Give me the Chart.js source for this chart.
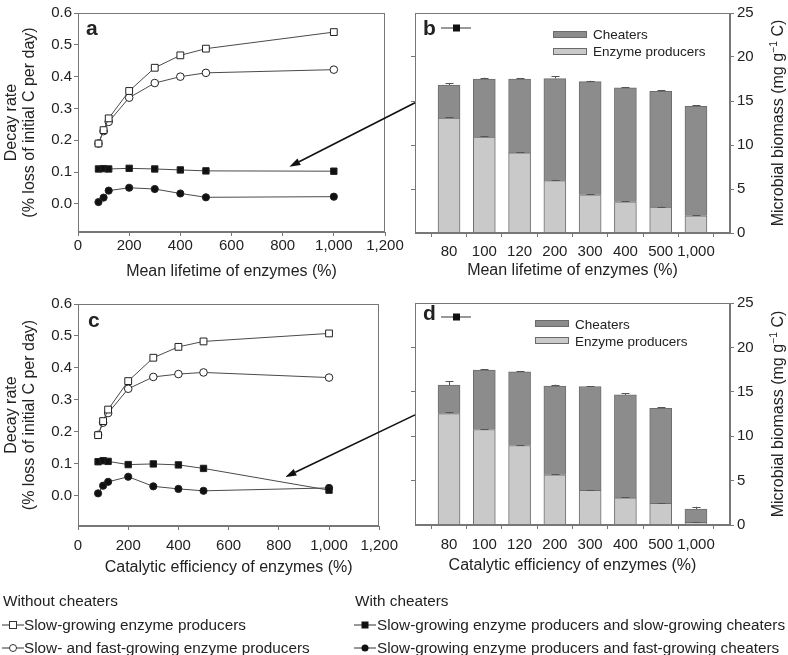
<!DOCTYPE html>
<html>
<head>
<meta charset="utf-8">
<script src="https://cdn.jsdelivr.net/npm/chart.js@4.4.1/dist/chart.umd.min.js"></script>
<style>
  html, body { margin: 0; padding: 0; background: #fff; }
  body { width: 788px; height: 655px; position: relative; overflow: hidden;
         font-family: "Liberation Sans", Arial, Helvetica, sans-serif; color: #222; }
  .pane { position: absolute; }
  .pane canvas { display: block; }
  .txt { position: absolute; white-space: nowrap; font-size: 15.3px; line-height: 18px; }
  .leg { position: absolute; white-space: nowrap; font-size: 13.5px; line-height: 16px; }
  .tag { position: absolute; font-weight: bold; font-size: 21px; line-height: 21px; }
  .sw  { position: absolute; width: 32px; height: 5px; border: 1px solid #6a6a6a; }
  .sym { position: absolute; }
  #arrows { position: absolute; left: 0; top: 0; pointer-events: none; }
</style>
</head>
<body>

<div class="pane" id="paneA" style="left:0;top:0"><canvas id="chartA" width="405" height="295"></canvas></div>
<div class="pane" id="paneB" style="left:380px;top:0"><canvas id="chartB" width="408" height="295"></canvas></div>
<div class="pane" id="paneC" style="left:0;top:290px"><canvas id="chartC" width="405" height="295"></canvas></div>
<div class="pane" id="paneD" style="left:380px;top:290px"><canvas id="chartD" width="408" height="295"></canvas></div>

<!-- panel letters -->
<div class="tag" style="left:86px;top:17px">a</div>
<div class="tag" style="left:423px;top:17px">b</div>
<svg class="sym" style="left:441px;top:22px" width="30" height="12"><line x1="0" y1="6" x2="30" y2="6" stroke="#333" stroke-width="1"/><rect x="12" y="2.5" width="7" height="7" fill="#111"/></svg>
<div class="tag" style="left:88px;top:309px">c</div>
<div class="tag" style="left:423px;top:302px">d</div>
<svg class="sym" style="left:441px;top:311px" width="30" height="12"><line x1="0" y1="6" x2="30" y2="6" stroke="#333" stroke-width="1"/><rect x="12" y="2.5" width="7" height="7" fill="#111"/></svg>

<!-- bar legends -->
<div class="sw" style="left:553px;top:31px;background:#8c8c8c"></div>
<div class="leg" style="left:593px;top:27px">Cheaters</div>
<div class="sw" style="left:553px;top:48px;background:#c9c9c9"></div>
<div class="leg" style="left:593px;top:44px">Enzyme producers</div>

<div class="sw" style="left:535px;top:320px;background:#8c8c8c"></div>
<div class="leg" style="left:575px;top:317px">Cheaters</div>
<div class="sw" style="left:535px;top:337px;background:#c9c9c9"></div>
<div class="leg" style="left:575px;top:334px">Enzyme producers</div>

<!-- bottom legend -->
<div class="txt" style="left:3px;top:592px">Without cheaters</div>
<svg class="sym" style="left:2px;top:619px" width="22" height="12"><line x1="0" y1="6" x2="22" y2="6" stroke="#333"/><rect x="7.5" y="2.5" width="7" height="7" fill="#fff" stroke="#333"/></svg>
<div class="txt" style="left:24px;top:616px">Slow-growing enzyme producers</div>
<svg class="sym" style="left:2px;top:642px" width="22" height="12"><line x1="0" y1="6" x2="22" y2="6" stroke="#333"/><circle cx="11" cy="6" r="3.5" fill="#fff" stroke="#333"/></svg>
<div class="txt" style="left:24px;top:639px">Slow- and fast-growing enzyme producers</div>

<div class="txt" style="left:355px;top:592px">With cheaters</div>
<svg class="sym" style="left:354px;top:619px" width="22" height="12"><line x1="0" y1="6" x2="22" y2="6" stroke="#333"/><rect x="7.5" y="2.5" width="7" height="7" fill="#111"/></svg>
<div class="txt" style="left:377px;top:616px">Slow-growing enzyme producers and slow-growing cheaters</div>
<svg class="sym" style="left:354px;top:642px" width="22" height="12"><line x1="0" y1="6" x2="22" y2="6" stroke="#333"/><circle cx="11" cy="6" r="3.5" fill="#111"/></svg>
<div class="txt" style="left:377px;top:639px">Slow-growing enzyme producers and fast-growing cheaters</div>

<svg id="arrows" width="788" height="655"></svg>

<script>
// ---- data ----
const pctLevels = [80, 100, 120, 200, 300, 400, 500, 1000];
const pctTicks = [0, 200, 400, 600, 800, 1000, 1200];
const decayTicks = [0, 0.1, 0.2, 0.3, 0.4, 0.5, 0.6];
const biomassTicks = [0, 5, 10, 15, 20, 25];
const barCats = ["80", "100", "120", "200", "300", "400", "500", "1,000"];

// panel a: mean lifetime of enzymes
const aSlowProd  = [0.19, 0.232, 0.269, 0.355, 0.428, 0.467, 0.488, 0.540];
const aMixProd   = [0.19, 0.229, 0.258, 0.334, 0.380, 0.400, 0.412, 0.422];
const aSlowCheat = [0.110, 0.111, 0.110, 0.112, 0.110, 0.107, 0.104, 0.103];
const aFastCheat = [0.006, 0.020, 0.042, 0.051, 0.047, 0.033, 0.021, 0.023];

// panel c: catalytic efficiency of enzymes
const cSlowProd  = [0.19, 0.234, 0.270, 0.359, 0.432, 0.466, 0.483, 0.508];
const cMixProd   = [0.191, 0.229, 0.259, 0.335, 0.372, 0.381, 0.386, 0.370];
const cSlowCheat = [0.107, 0.110, 0.108, 0.098, 0.100, 0.097, 0.086, 0.018];
const cFastCheat = [0.008, 0.032, 0.044, 0.060, 0.030, 0.022, 0.016, 0.025];

// panel b: biomass, mean lifetime
const bProducers = [13.05, 10.9, 9.1, 5.95, 4.35, 3.55, 2.95, 1.95];
const bCheaters  = [3.75, 6.6, 8.4, 11.6, 12.85, 12.95, 13.15, 12.45];
const bErrProd   = [0.1, 0.08, 0.06, 0.08, 0.05, 0.05, 0.05, 0.05];
const bErrTotal  = [0.2, 0.15, 0.1, 0.25, 0.1, 0.1, 0.15, 0.1];

// panel d: biomass, catalytic efficiency
const dProducers = [12.55, 10.75, 8.95, 5.65, 3.9, 3.05, 2.45, 0.3];
const dCheaters  = [3.2, 6.7, 8.3, 10.0, 11.7, 11.6, 10.7, 1.5];
const dErrProd   = [0.15, 0.05, 0.05, 0.08, 0.05, 0.05, 0.05, 0.05];
const dErrTotal  = [0.45, 0.1, 0.1, 0.15, 0.05, 0.2, 0.1, 0.25];

// arrow anchors (data units): head in line panel, tail on bar panel's left axis
const arrowA = { x: 826, y: 0.117, fromY: 14.8 };
const arrowC = { x: 826, y: 0.059, fromY: 12.4 };

// ---- styling ----
Chart.defaults.font.family = '"Liberation Sans", Arial, Helvetica, sans-serif';
Chart.defaults.color = "#222";
const AXIS = "#777";
const LINE = "#4a4a4a";

const framePlugin = {
  id: "frameBox",
  afterDraw(chart) {
    const { ctx, chartArea: a } = chart;
    ctx.save();
    ctx.strokeStyle = AXIS; ctx.lineWidth = 1;
    ctx.strokeRect(Math.round(a.left) + 0.5, Math.round(a.top) + 0.5,
                   Math.round(a.right - a.left) - 1, Math.round(a.bottom - a.top) - 1);
    ctx.restore();
  }
};

const errorBars = {
  id: "errorBars",
  afterDatasetsDraw(chart) {
    const { ctx } = chart; const ys = chart.scales.y;
    ctx.save(); ctx.strokeStyle = "#555"; ctx.lineWidth = 1;
    chart.data.datasets.forEach((ds, di) => {
      if (!ds.errs) return;
      chart.getDatasetMeta(di).data.forEach((bar, i) => {
        const len = ys.getPixelForValue(0) - ys.getPixelForValue(ds.errs[i]);
        const x = Math.round(bar.x) + 0.5, y0 = bar.y, y1 = bar.y - len;
        ctx.beginPath();
        ctx.moveTo(x, y0); ctx.lineTo(x, y1);
        ctx.moveTo(x - 4, Math.round(y1) + 0.5); ctx.lineTo(x + 4, Math.round(y1) + 0.5);
        ctx.stroke();
      });
    });
    ctx.restore();
  }
};

// right-hand axis title, read bottom-to-top, with superscript
const bioTitle = {
  id: "bioTitle",
  afterDraw(chart) {
    const { ctx, chartArea: a } = chart;
    const big = '16px "Liberation Sans", Arial, sans-serif';
    const sml = '10.5px "Liberation Sans", Arial, sans-serif';
    const p1 = "Microbial biomass (mg g", p2 = "\u22121", p3 = " C)";
    ctx.save();
    ctx.font = big; const w1 = ctx.measureText(p1).width, w3 = ctx.measureText(p3).width;
    ctx.font = sml; const w2 = ctx.measureText(p2).width;
    const total = w1 + w2 + w3;
    ctx.translate(a.right + 47, (a.top + a.bottom) / 2);
    ctx.rotate(-Math.PI / 2);
    ctx.fillStyle = "#222"; ctx.textBaseline = "alphabetic";
    let x = -total / 2; const base = 5.5;
    ctx.font = big; ctx.fillText(p1, x, base); x += w1;
    ctx.font = sml; ctx.fillText(p2, x, base - 6); x += w2;
    ctx.font = big; ctx.fillText(p3, x, base);
    ctx.restore();
  }
};

function tickGrid() {
  return { drawOnChartArea: false, drawTicks: true, tickLength: 4, color: AXIS };
}

function decayChart(id, xTitle, series, geo) {
  const ds = series.map(s => ({
    data: pctLevels.map((x, i) => ({ x, y: s.values[i] })),
    borderColor: LINE, borderWidth: 1, tension: 0,
    pointStyle: s.style, pointRadius: s.r,
    pointBackgroundColor: s.fill, pointBorderColor: "#222", pointBorderWidth: 1
  }));
  return new Chart(document.getElementById(id), {
    type: "line",
    data: { datasets: ds },
    options: {
      responsive: false, animation: false, events: [],
      layout: { padding: { top: geo.top, right: geo.right, left: 0, bottom: 0 } },
      plugins: { legend: { display: false }, tooltip: { enabled: false } },
      scales: {
        x: {
          type: "linear", min: 0, max: 1200,
          afterBuildTicks: s => { s.ticks = pctTicks.map(v => ({ value: v })); },
          ticks: { font: { size: 15 }, padding: geo.xPad, maxRotation: 0, autoSkip: false,
                   callback: v => v.toLocaleString("en-US") },
          grid: tickGrid(), border: { color: AXIS },
          title: { display: true, text: xTitle, font: { size: 16 }, padding: { top: 0, bottom: geo.titlePad } },
          afterFit: s => { s.height = geo.xH; }
        },
        y: {
          min: geo.yMin, max: 0.6,
          afterBuildTicks: s => { s.ticks = decayTicks.map(v => ({ value: v })); },
          ticks: { font: { size: 15 }, padding: 2, callback: v => v.toFixed(1) },
          grid: tickGrid(), border: { color: AXIS },
          title: { display: true, text: ["Decay rate", "(% loss of initial C per day)"],
                   font: { size: 16, lineHeight: 1.1 }, padding: { top: 3, bottom: 0 } },
          afterFit: s => { s.width = 78; }
        }
      }
    },
    plugins: [framePlugin]
  });
}

function biomassChart(id, xTitle, prod, cheat, errProd, errTotal, geo) {
  const idx = barCats.map((_, i) => i);
  const bar = { borderColor: "#6e6e6e", borderWidth: 1, barThickness: 22, stack: "s" };
  return new Chart(document.getElementById(id), {
    type: "bar",
    data: {
      datasets: [
        Object.assign({ label: "Enzyme producers", data: idx.map(i => ({ x: i, y: prod[i] })),
                        backgroundColor: "#c9c9c9", errs: errProd }, bar),
        Object.assign({ label: "Cheaters", data: idx.map(i => ({ x: i, y: cheat[i] })),
                        backgroundColor: "#8c8c8c", errs: errTotal }, bar)
      ]
    },
    options: {
      responsive: false, animation: false, events: [],
      layout: { padding: { top: geo.top, right: 0, left: 0, bottom: 0 } },
      plugins: { legend: { display: false }, tooltip: { enabled: false } },
      scales: {
        x: {
          type: "linear", min: -0.965, max: 7.965, offset: false,
          afterBuildTicks: s => { s.ticks = idx.map(v => ({ value: v })); },
          ticks: { font: { size: 15 }, padding: geo.xPad, maxRotation: 0, autoSkip: false,
                   callback: v => barCats[v] },
          grid: tickGrid(), border: { color: AXIS },
          title: { display: true, text: xTitle, font: { size: 16 }, padding: { top: 0, bottom: geo.titlePad } },
          afterFit: s => { s.height = geo.xH; }
        },
        y: {
          position: "right", stacked: true, min: 0, max: 25,
          afterBuildTicks: s => { s.ticks = biomassTicks.map(v => ({ value: v })); },
          ticks: { font: { size: 15 }, padding: 3 },
          grid: tickGrid(), border: { color: AXIS },
          afterFit: s => { s.width = 58; }
        },
        yl: {
          position: "left", min: 0, max: 25,
          afterBuildTicks: s => { s.ticks = biomassTicks.slice(1, -1).map(v => ({ value: v })); },
          ticks: { display: false },
          grid: tickGrid(), border: { color: AXIS },
          afterFit: s => { s.width = 35; }
        }
      }
    },
    plugins: [framePlugin, errorBars, bioTitle]
  });
}

const symbols = {
  slowProd:  { style: "rect",   r: 4.8, fill: "#fff" },
  mixProd:   { style: "circle", r: 3.8, fill: "#fff" },
  slowCheat: { style: "rect",   r: 4.5, fill: "#111" },
  fastCheat: { style: "circle", r: 3.6, fill: "#111" }
};
function seriesSet(sp, mp, sc, fc) {
  return [
    Object.assign({ values: sp }, symbols.slowProd),
    Object.assign({ values: mp }, symbols.mixProd),
    Object.assign({ values: sc }, symbols.slowCheat),
    Object.assign({ values: fc }, symbols.fastCheat)
  ];
}

const chartA = decayChart("chartA", "Mean lifetime of enzymes (%)",
  seriesSet(aSlowProd, aMixProd, aSlowCheat, aFastCheat),
  { top: 13, right: 20, xH: 63, xPad: 1, titlePad: 14, yMin: -0.088 });
const chartC = decayChart("chartC", "Catalytic efficiency of enzymes (%)",
  seriesSet(cSlowProd, cMixProd, cSlowCheat, cFastCheat),
  { top: 14, right: 20, xH: 59, xPad: 7, titlePad: 8, yMin: -0.094 });
const chartB = biomassChart("chartB", "Mean lifetime of enzymes (%)",
  bProducers, bCheaters, bErrProd, bErrTotal,
  { top: 13, xH: 62, xPad: 6, titlePad: 15 });
const chartD = biomassChart("chartD", "Catalytic efficiency of enzymes (%)",
  dProducers, dCheaters, dErrProd, dErrTotal,
  { top: 13, xH: 60, xPad: 7, titlePad: 10 });

// ---- arrows linking the with-cheater line to the biomass panels ----
function drawArrow(lineChart, linePane, barChart, barPane, at) {
  const svg = document.getElementById("arrows");
  const ns = "http://www.w3.org/2000/svg";
  const hx = linePane.offsetLeft + lineChart.scales.x.getPixelForValue(at.x);
  const hy = linePane.offsetTop + lineChart.scales.y.getPixelForValue(at.y);
  const tx = barPane.offsetLeft + barChart.chartArea.left;
  const ty = barPane.offsetTop + barChart.scales.y.getPixelForValue(at.fromY);
  const dx = hx - tx, dy = hy - ty, L = Math.hypot(dx, dy);
  const ux = dx / L, uy = dy / L, hl = 11, hw = 3.6;
  const bx = hx - ux * hl, by = hy - uy * hl;
  const ln = document.createElementNS(ns, "line");
  ln.setAttribute("x1", tx); ln.setAttribute("y1", ty);
  ln.setAttribute("x2", bx); ln.setAttribute("y2", by);
  ln.setAttribute("stroke", "#111"); ln.setAttribute("stroke-width", "1.6");
  svg.appendChild(ln);
  const hd = document.createElementNS(ns, "polygon");
  hd.setAttribute("points", `${hx},${hy} ${bx - uy * hw},${by + ux * hw} ${bx + uy * hw},${by - ux * hw}`);
  hd.setAttribute("fill", "#111");
  svg.appendChild(hd);
}
drawArrow(chartA, document.getElementById("paneA"), chartB, document.getElementById("paneB"), arrowA);
drawArrow(chartC, document.getElementById("paneC"), chartD, document.getElementById("paneD"), arrowC);
</script>
</body>
</html>
